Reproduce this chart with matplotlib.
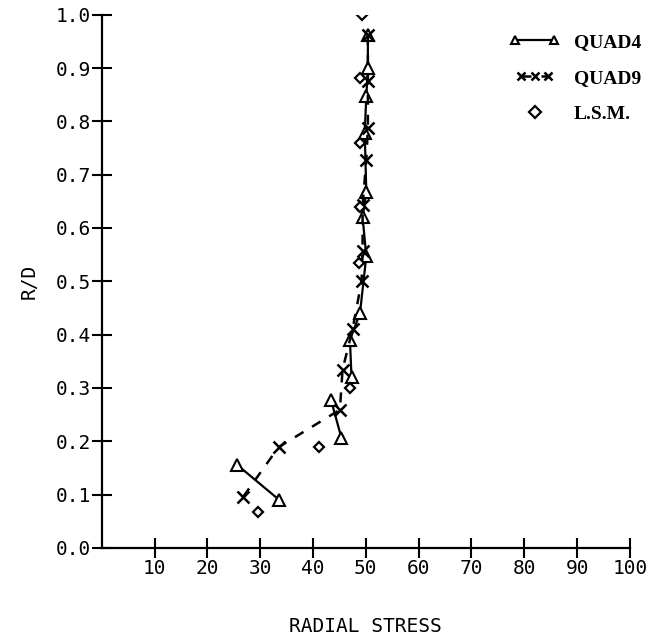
import numpy as np
import matplotlib
matplotlib.use("Agg")
import matplotlib.pyplot as plt
from matplotlib.legend_handler import HandlerLine2D

# QUAD4 : segments separes (triangles, trait plein)
quad4_seg1_x = [25.6, 33.6]
quad4_seg1_y = [0.156, 0.090]
quad4_seg2_x = [43.4, 45.4]
quad4_seg2_y = [0.278, 0.206]
quad4_col_x = [47.3, 47.0, 48.9, 50.1, 49.4, 50.1, 49.8, 50.1, 50.4, 50.4]
quad4_col_y = [0.320, 0.390, 0.440, 0.547, 0.620, 0.668, 0.778, 0.847, 0.900, 0.962]

# QUAD9 (croix, tirets)
quad9_x = [26.8, 33.5, 45.1, 45.6, 47.5, 49.2, 49.4, 49.4, 50.1, 50.4, 50.4, 50.4]
quad9_y = [0.096, 0.189, 0.259, 0.334, 0.410, 0.500, 0.556, 0.643, 0.728, 0.787, 0.875, 0.962]

# L.S.M. (losanges)
lsm_x = [29.6, 41.1, 47.1, 48.7, 48.9, 48.9, 48.9, 49.2]
lsm_y = [0.068, 0.189, 0.300, 0.535, 0.640, 0.760, 0.881, 1.000]

xticks = [10, 20, 30, 40, 50, 60, 70, 80, 90, 100]
yticks = [0.0, 0.1, 0.2, 0.3, 0.4, 0.5, 0.6, 0.7, 0.8, 0.9, 1.0]

plt.rcParams['font.family'] = 'DejaVu Sans Mono'

fig = plt.figure(figsize=(6.52, 6.4), dpi=100)
ax = fig.add_axes([0.156, 0.144, 0.81, 0.833])

tri = dict(marker='^', markersize=8, markerfacecolor='white', markeredgecolor='black',
           markeredgewidth=1.5, color='black', lw=1.6)
l4, = ax.plot(quad4_seg1_x, quad4_seg1_y, **tri)
ax.plot(quad4_seg2_x, quad4_seg2_y, **tri)
ax.plot(quad4_col_x, quad4_col_y, **tri)

l9, = ax.plot(quad9_x, quad9_y, color='black', lw=1.8, ls=(0, (4, 4)),
              marker='x', markersize=8, markeredgewidth=1.8)

ls, = ax.plot(lsm_x, lsm_y, ls='none', marker='D', markersize=5,
              markerfacecolor='white', markeredgecolor='black', markeredgewidth=1.6)

ax.set_xlim(0, 100)
ax.set_ylim(0, 1.0)
ax.set_xticks(xticks)
ax.set_yticks(yticks)
ax.set_xticklabels([str(t) for t in xticks])
ax.set_yticklabels(['%.1f' % t for t in yticks])
ax.tick_params(direction='inout', length=14, width=1.5, labelsize=14, pad=1)

for s in ['top', 'right']:
    ax.spines[s].set_visible(False)
for s in ['left', 'bottom']:
    ax.spines[s].set_linewidth(1.6)

ax.set_xlabel('RADIAL STRESS', fontsize=14, labelpad=28)
ax.set_ylabel('R/D', fontsize=14, labelpad=12)

leg = ax.legend([l4, l9, ls], ['QUAD4', 'QUAD9', 'L.S.M.'],
                handler_map={l4: HandlerLine2D(numpoints=2, marker_pad=0.0),
                             l9: HandlerLine2D(numpoints=3),
                             ls: HandlerLine2D(numpoints=1)},
                loc='upper right', bbox_to_anchor=(1.01, 0.975), bbox_transform=fig.transFigure,
                frameon=False, handlelength=2.0, handletextpad=1.0, labelspacing=0.95,
                prop={'family': 'Liberation Serif', 'weight': 'bold', 'size': 14})
for h in leg.legend_handles:
    h.set_markersize(6)

fig.savefig('out.png', dpi=100)
